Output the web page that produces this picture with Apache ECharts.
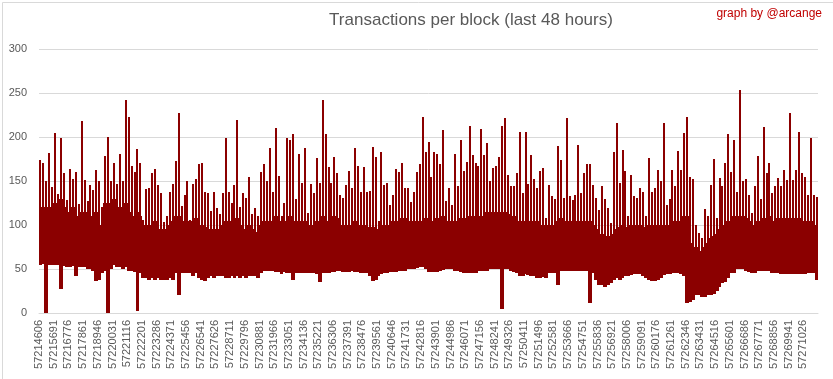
<!DOCTYPE html>
<html>
<head>
<meta charset="utf-8">
<script src="https://cdn.jsdelivr.net/npm/echarts@6/dist/echarts.min.js"></script>
<style>
html,body{margin:0;padding:0;background:#fff;}
#chart{width:833px;height:379px;}
</style>
</head>
<body>
<div id="chart"></div>
<script>
// ---- data ----
var title = 'Transactions per block (last 48 hours)';
var credit = 'graph by @arcange';
var firstBlock = 57214606;
var lastBlock = 57272111;
var blocksPerColumn = 217;      // each column summarises 217 blocks
var labelStep = 1085;           // block distance between tick labels
var yTicks = [0, 50, 100, 150, 200, 250, 300];
var tickLabels = ['57214606','57215691','57216776','57217861','57218946','57220031','57221116','57222201','57223286','57224371','57225456','57226541','57227626','57228711','57229796','57230881','57231966','57233051','57234136','57235221','57236306','57237391','57238476','57239561','57240646','57241731','57242816','57243901','57244986','57246071','57247156','57248241','57249326','57250411','57251496','57252581','57253666','57254751','57255836','57256921','57258006','57259091','57260176','57261261','57262346','57263431','57264516','57265601','57266686','57267771','57268856','57269941','57271026'];
// per column: minimum, top of the dense band, maximum transactions per block
var lows = [55,56,0,55,55,55,55,27,53,52, 52,53,42,52,52,52,50,50,48,36, 38,45,48,0,50,55,52,52,50,52,
48,48,47,2,45,40,40,38,40,38, 40,38,38,38,40,38,45,20,45,45, 45,45,42,45,40,38,36,40,42,40,
42,42,42,40,40,42,40,42,40,42, 40,42,42,42,40,45,48,48,48,48, 47,47,44,47,45,45,37,45,45,45,
45,45,45,45,44,35,45,45,45,47, 47,48,48,47,47,47,48,47,47,46, 45,45,42,36,38,42,44,45,46,47,
47,47,48,48,48,50,50,50,51,52, 52,50,47,47,47,47,48,49,50,50, 50,48,48,47,46,45,45,45,45,48,
48,48,48,50,50,50,50,5,50,50, 48,47,45,42,42,44,43,42,42,40, 40,41,40,45,45,46,32,48,48,48,
48,48,48,48,48,48,48,11,45,38, 32,32,30,32,34,38,40,38,40,42, 42,43,44,44,44,42,40,37,36,36,
37,40,43,44,44,45,45,45,44,42, 11,12,15,20,20,18,18,20,20,22, 25,30,34,35,40,45,45,50,50,50,
48,47,46,46,48,48,48,48,48,46, 46,45,44,44,44,44,44,44,44,44, 44,45,45,45,38];
var mids = [115,120,115,120,115,125,115,130,120,110, 115,120,110,105,115,115,105,110,110,115, 100,100,125,125,125,130,115,120,115,125,
115,110,110,115,110,88,100,100,100,105, 90,95,90,95,100,105,110,110,100,105, 105,95,105,108,100,100,98,95,95,95,
95,95,100,105,105,100,105,108,100,95, 90,100,95,92,92,100,105,105,105,100, 110,105,98,100,105,110,105,100,105,105,
105,98,100,98,105,100,110,105,105,108, 110,108,100,100,100,100,100,105,100,100, 100,98,98,98,95,95,100,100,100,100,
105,105,105,108,108,105,105,105,105,105, 105,108,108,105,105,108,108,110,105,105, 105,105,105,108,108,108,110,110,110,110,
110,110,115,115,115,115,115,112,115,112, 110,110,105,105,105,105,105,105,105,105, 100,100,95,100,100,100,105,108,105,105,
105,103,103,105,105,105,105,105,100,95, 90,90,88,88,88,90,95,98,100,98, 95,100,100,100,100,98,90,100,100,100,
100,100,100,100,100,105,100,105,105,110, 110,80,75,75,70,70,75,80,85,88, 90,95,98,100,105,105,110,108,110,110,
108,105,100,100,105,105,108,108,110,105, 105,108,105,108,105,108,105,108,108,105, 105,100,105,100,95];
var highs = [174,171,150,182,143,205,135,199,159,128, 164,152,160,124,218,151,127,145,140,163, 150,120,178,200,150,170,147,181,150,242,
223,167,160,186,171,106,141,142,159,164, 145,136,103,110,138,147,173,227,122,134, 150,106,147,152,169,170,138,136,116,138,
119,112,136,199,138,125,146,219,121,136, 131,155,112,119,110,160,169,150,188,138, 210,156,110,125,199,197,203,130,181,148,
187,114,147,136,176,148,242,203,166,148, 177,159,134,131,146,161,142,187,167,138, 166,138,139,189,177,104,183,146,148,123,
134,164,160,170,142,142,126,138,160,169, 223,183,194,155,183,181,169,208,127,142, 123,181,144,197,161,172,212,180,170,167,
209,180,193,150,165,167,177,213,222,157, 144,144,159,206,136,206,147,179,152,142, 161,165,108,146,133,129,190,174,131,222,
133,128,134,191,136,159,169,169,146,131, 117,144,130,119,102,183,216,148,185,161, 110,157,133,131,142,138,110,176,138,142,
163,150,216,123,129,163,144,184,163,205, 223,155,152,100,91,85,118,110,146,175, 108,153,144,170,203,160,197,138,253,150,
152,134,114,144,178,129,211,159,170,136, 144,153,144,163,151,227,151,163,206,159, 155,134,199,134,132];

// ---- chart ----
var RED = '#8b0000';
var seriesData = lows.map(function (lo, i) {
  return [firstBlock + i * blocksPerColumn, lo, mids[i], highs[i]];
});

var chart = echarts.init(document.getElementById('chart'), null, {renderer: 'canvas'});
chart.setOption({
  animation: false,
  backgroundColor: '#ffffff',
  title: {
    text: title,
    left: 466, top: 7, textAlign: 'center',
    textStyle: {fontFamily: 'Liberation Sans', fontWeight: 'normal', fontSize: 17, color: '#595959'}
  },
  graphic: [
    {type: 'rect', left: 0, top: 0, z: 100, silent: true,
     shape: {x: 0.5, y: 0.5, width: 832, height: 378},
     style: {fill: 'none', stroke: '#d9d9d9', lineWidth: 1}},
    {type: 'text', right: 11, top: 8, z: 100,
     style: {text: credit, fill: '#c00000', font: '12px "Liberation Sans"'}}
  ],
  grid: {left: 39, right: 15, top: 49, bottom: 66, containLabel: false},
  xAxis: {
    type: 'value',
    min: firstBlock, max: lastBlock, interval: labelStep,
    axisLine: {show: true, lineStyle: {color: '#d9d9d9', width: 1}},
    axisTick: {show: false},
    splitLine: {show: false},
    axisLabel: {
      rotate: 90, margin: 7, showMaxLabel: false, showMinLabel: true,
      fontFamily: 'Liberation Sans', fontSize: 11, color: '#595959',
      formatter: function (v) {
        var k = Math.round((v - firstBlock) / labelStep);
        return tickLabels[k] || '';
      }
    }
  },
  yAxis: {
    type: 'value', min: yTicks[0], max: yTicks[yTicks.length - 1], interval: yTicks[1] - yTicks[0],
    axisLine: {show: false}, axisTick: {show: false},
    splitLine: {lineStyle: {color: '#d9d9d9', width: 1}},
    axisLabel: {margin: 12, fontFamily: 'Liberation Sans', fontSize: 11, color: '#595959'}
  },
  series: [{
    type: 'custom',
    data: seriesData,
    encode: {x: 0, y: [1, 2, 3]},
    clip: true,
    renderItem: function (params, api) {
      var x = api.value(0);
      var a = api.coord([x, api.value(1)]);
      var b = api.coord([x + blocksPerColumn, api.value(2)]);
      var c = api.coord([x + blocksPerColumn / 2, api.value(3)]);
      var x0 = Math.floor(a[0]);
      var x1 = Math.ceil(b[0]);
      var sx = Math.round(c[0] - 1);
      return {
        type: 'group',
        children: [
          {type: 'rect', shape: {x: x0, y: Math.round(b[1]), width: x1 - x0, height: Math.round(a[1]) - Math.round(b[1])}, style: {fill: RED}},
          {type: 'rect', shape: {x: sx, y: Math.round(c[1]), width: 2, height: Math.round(b[1]) - Math.round(c[1]) + 1}, style: {fill: RED}}
        ]
      };
    }
  }]
});
</script>
</body>
</html>
